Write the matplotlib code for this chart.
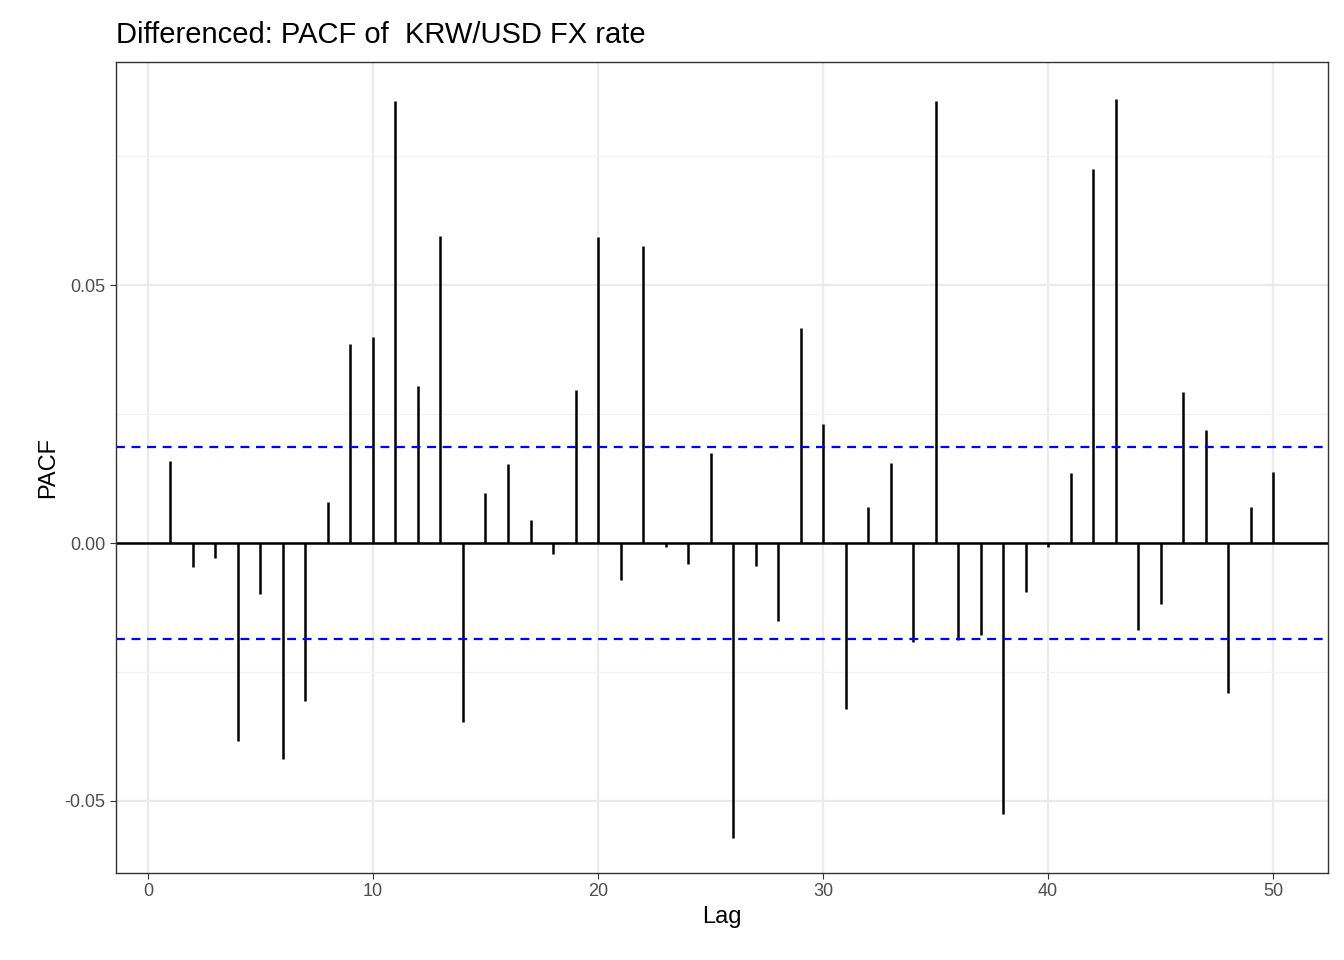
import matplotlib.pyplot as plt
import numpy as np

plt.rcParams['font.family'] = ['Liberation Sans', 'DejaVu Sans']

lags = np.arange(1, 51)
pacf = [0.0159, -0.0047, -0.0029, -0.0384, -0.0099, -0.0419, -0.0306, 0.0079, 0.0386, 0.0399,
        0.0857, 0.0304, 0.0595, -0.0347, 0.0097, 0.0153, 0.0045, -0.0021, 0.0297, 0.0593,
        -0.0072, 0.0576, -0.0008, -0.0041, 0.0174, -0.0572, -0.0045, -0.0151, 0.0417, 0.0231,
        -0.0322, 0.0070, 0.0155, -0.0192, 0.0857, -0.0188, -0.0178, -0.0525, -0.0095, -0.0008,
        0.0136, 0.0725, 0.0862, -0.0169, -0.0118, 0.0293, 0.0219, -0.0291, 0.0070, 0.0138]
ci = 0.0186

fig = plt.figure(figsize=(13.44, 9.6), dpi=100)
ax = fig.add_axes([116 / 1344, 1 - 873 / 960, 1212 / 1344, 811 / 960])

ax.set_xticks([0, 10, 20, 30, 40, 50])
ax.set_yticks([-0.05, 0.0, 0.05])
ax.set_yticklabels(["-0.05", "0.00", "0.05"])
ax.set_yticks([-0.025, 0.025, 0.075], minor=True)
ax.grid(which="major", color="#ebebeb", lw=1.6)
ax.grid(which="minor", axis="y", color="#f2f2f2", lw=0.9)
ax.set_axisbelow(True)

ax.vlines(lags, 0, pacf, color="black", lw=1.8)
ax.axhline(0, color="black", lw=1.8)
ax.axhline(ci, color="blue", ls=(0, (4, 3)), lw=1.6)
ax.axhline(-ci, color="blue", ls=(0, (4, 3)), lw=1.6)

ax.set_xlim(-1.42, 52.44)
ax.set_ylim(-0.0640, 0.0933)
for s in ax.spines.values():
    s.set_color("#333333")
    s.set_linewidth(1.0)
ax.tick_params(which="major", colors="#333333", labelsize=13, length=4, labelcolor="#4d4d4d")
ax.tick_params(which="minor", length=0)

ax.set_xlabel("Lag", fontsize=17)
ax.set_ylabel("PACF", fontsize=17)
ax.set_title("Differenced: PACF of  KRW/USD FX rate", fontsize=21, loc="left", pad=14)

fig.savefig("out.png", dpi=100)
